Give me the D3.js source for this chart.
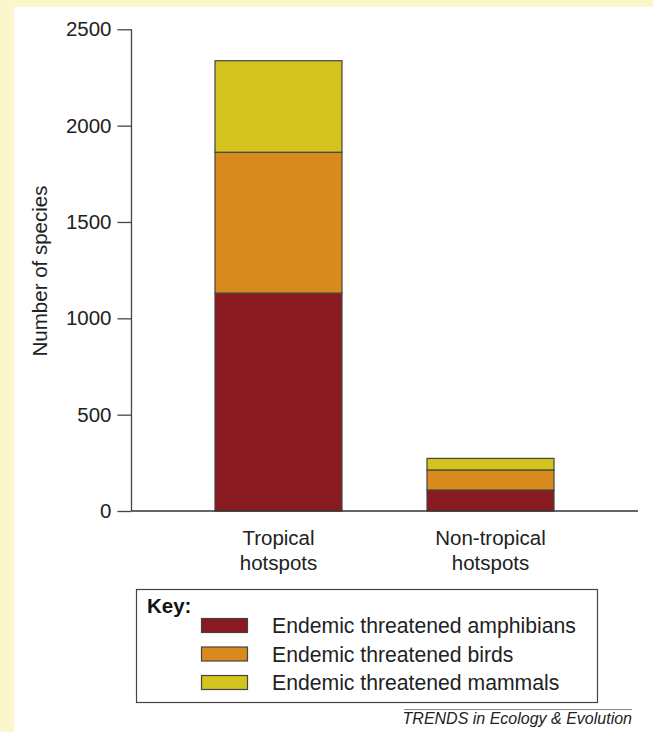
<!DOCTYPE html>
<html><head><meta charset="utf-8">
<script src="https://cdn.jsdelivr.net/npm/d3@7/dist/d3.min.js"></script>
<style>
html,body{margin:0;padding:0;background:#fcf6cd;}
svg{display:block;font-family:"Liberation Sans",Arial,Helvetica,sans-serif;}
</style></head>
<body>
<svg id="chart" width="653" height="732"></svg>
<script>
const categories = ["Tropical\nhotspots", "Non-tropical\nhotspots"];
const seriesNames = ["Endemic threatened amphibians", "Endemic threatened birds", "Endemic threatened mammals"];
const amphibians = [1131, 109];
const birds = [731, 104];
const mammals = [475, 60];
const yTicks = [0, 500, 1000, 1500, 2000, 2500];
const colors = ["#891a20", "#d98a1d", "#d3c41f"];

const FS = 20.5;
const LFS = 21.2;
const svg = d3.select("#chart");
svg.append("rect").attr("x", 14).attr("y", 7).attr("width", 653 - 14).attr("height", 732 - 7).attr("fill", "#ffffff");

const y = d3.scaleLinear().domain([0, 2500]).range([511, 29.3]);
const x = d3.scaleBand().domain(categories).range([109, 660]).paddingInner(0.401).paddingOuter(0.5);

const rows = categories.map((c, i) => ({cat: c, s0: amphibians[i], s1: birds[i], s2: mammals[i]}));
const stack = d3.stack().keys(["s0", "s1", "s2"])(rows);

// y axis
const yAxis = d3.axisLeft(y).tickValues(yTicks).tickSize(14).tickPadding(6).tickFormat(d3.format("d"));
const gy = svg.append("g").attr("transform", "translate(131.5,0)").call(yAxis);
gy.attr("font-size", null).attr("font-family", null);
gy.select(".domain").attr("stroke", "#444").attr("stroke-width", 1.3).attr("d", "M0," + y(0) + "V" + (y(2500)) + "H-0");
gy.selectAll(".tick line").attr("stroke", "#444").attr("stroke-width", 1.3);
gy.selectAll(".tick text").attr("font-size", FS).attr("fill", "#222");

// bars
const g = svg.append("g");
stack.forEach((layer, li) => {
  g.selectAll(".l" + li).data(layer).enter().append("rect")
    .attr("x", d => x(d.data.cat))
    .attr("width", x.bandwidth())
    .attr("y", d => y(d[1]))
    .attr("height", d => y(d[0]) - y(d[1]))
    .attr("fill", colors[li])
    .attr("stroke", "#444").attr("stroke-width", 1.2);
});

// x axis line
svg.append("line").attr("x1", 131.5).attr("x2", 638).attr("y1", y(0)).attr("y2", y(0))
  .attr("stroke", "#333").attr("stroke-width", 1.6);

// x labels
categories.forEach(c => {
  const t = svg.append("text").attr("text-anchor", "middle").attr("font-size", FS).attr("fill", "#222");
  c.split("\n").forEach((ln, i) => {
    t.append("tspan").attr("x", x(c) + x.bandwidth() / 2).attr("y", 545 + i * 25).text(ln);
  });
});

// y title
svg.append("text").attr("transform", "translate(47,271) rotate(-90)").attr("text-anchor", "middle")
  .attr("font-size", FS).attr("fill", "#222").text("Number of species");

// legend
const lg = svg.append("g");
lg.append("rect").attr("x", 136.5).attr("y", 589.5).attr("width", 461).attr("height", 113)
  .attr("fill", "#fff").attr("stroke", "#444").attr("stroke-width", 1.2);
lg.append("text").attr("x", 147).attr("y", 613).attr("font-size", FS).attr("font-weight", "bold").attr("fill", "#111").text("Key:");
seriesNames.forEach((n, i) => {
  lg.append("rect").attr("x", 201.5).attr("y", 618.5 + i * 28.5).attr("width", 46).attr("height", 14)
    .attr("fill", colors[i]).attr("stroke", "#444").attr("stroke-width", 1.2);
  lg.append("text").attr("x", 272).attr("y", 633 + i * 28.5).attr("font-size", LFS).attr("fill", "#222").text(n);
});

// footer
svg.append("line").attr("x1", 404).attr("x2", 632).attr("y1", 709.5).attr("y2", 709.5).attr("stroke", "#888").attr("stroke-width", 1.2);
svg.append("text").attr("x", 632).attr("y", 724).attr("text-anchor", "end").attr("font-size", 16)
  .attr("font-style", "italic").attr("fill", "#222").text("TRENDS in Ecology & Evolution");
</script>
</body></html>
